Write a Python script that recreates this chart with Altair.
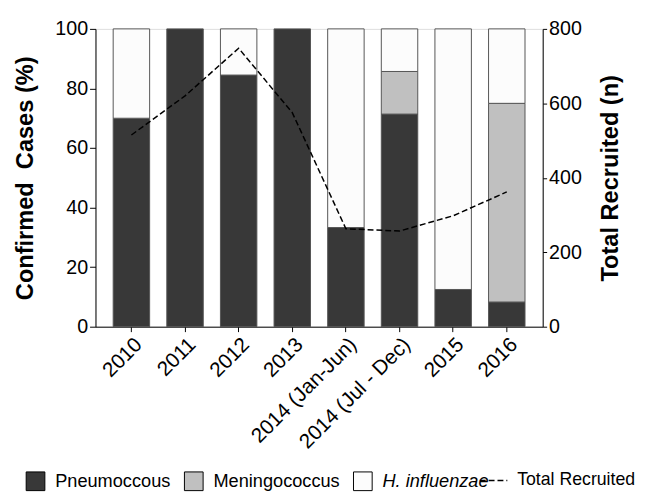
import altair as alt
import pandas as pd

categories = ["2010", "2011", "2012", "2013", "2014 (Jan-Jun)", "2014 (Jul - Dec)", "2015", "2016"]
pneumo = [70.0, 100.0, 84.5, 100.0, 33.3, 71.4, 12.5, 8.3]
mening = [0.0, 0.0, 0.0, 0.0, 0.0, 14.3, 0.0, 66.7]
hinf = [30.0, 0.0, 15.5, 0.0, 66.7, 14.3, 87.5, 25.0]
total_recruited = [515, 620, 748, 575, 263, 257, 298, 362]

series_names = ["Pneumoccous", "Meningococcus", "H. influenzae"]
series_colors = ["#383838", "#c0c0c0", "#fcfcfc"]

rows = []
for i, cat in enumerate(categories):
    for k, (name, vals) in enumerate(zip(series_names, [pneumo, mening, hinf])):
        if vals[i] > 0:
            rows.append({"year": cat, "series": name, "value": vals[i], "order": k})
bars_df = pd.DataFrame(rows)
line_df = pd.DataFrame({"year": categories, "total": total_recruited, "kind": "Total Recruited"})

FONT = "Liberation Sans"

x_enc = alt.X(
    "year:N",
    sort=categories,
    scale=alt.Scale(paddingInner=0.32, paddingOuter=0.33),
    axis=alt.Axis(
        title=None, labelAngle=-45, labelFontSize=21, labelColor="black",
        domainColor="black", tickColor="black", tickSize=5, labelPadding=2,
        labelFont=FONT,
    ),
)

bars = alt.Chart(bars_df).mark_bar(stroke="#555555", strokeWidth=1).encode(
    x=x_enc,
    y=alt.Y(
        "value:Q",
        stack="zero",
        scale=alt.Scale(domain=[0, 100]),
        axis=alt.Axis(
            title="Confirmed\u00a0 Cases (%)", titleFontSize=24, titleFontWeight="bold",
            titleColor="black", titleFont=FONT, titlePadding=18,
            labelFontSize=20, labelColor="black", labelFont=FONT,
            values=[0, 20, 40, 60, 80, 100], grid=False,
            domainColor="black", tickColor="black", tickSize=6, labelPadding=2,
        ),
    ),
    color=alt.Color(
        "series:N",
        scale=alt.Scale(domain=series_names, range=series_colors),
        legend=alt.Legend(
            title=None, orient="none", legendX=-71, legendY=450, direction="horizontal",
            symbolType="square", symbolSize=361, symbolStrokeColor="black",
            symbolStrokeWidth=1, symbolOpacity=1, labelFontSize=18.5, labelFont=FONT,
            labelColor="black", labelOffset=10, columnPadding=11, padding=0,
            labelFontStyle={"expr": "datum.label == 'H. influenzae' ? 'italic' : 'normal'"},
        ),
    ),
    order=alt.Order("order:Q", sort="ascending"),
)

line = alt.Chart(line_df).mark_line(color="black", strokeWidth=1.5).encode(
    x=alt.X("year:N", sort=categories),
    y=alt.Y(
        "total:Q",
        scale=alt.Scale(domain=[0, 800]),
        axis=alt.Axis(
            orient="right", title="Total Recruited (n)", titleFontSize=24,
            titleFontWeight="bold", titleColor="black", titleFont=FONT,
            titleAngle=270, titleBaseline="top", titlePadding=18,
            labelFontSize=20, labelColor="black", labelFont=FONT,
            values=[0, 200, 400, 600, 800], grid=False,
            domainColor="black", tickColor="black", tickSize=4, labelPadding=2,
        ),
    ),
    strokeDash=alt.StrokeDash(
        "kind:N",
        scale=alt.Scale(domain=["Total Recruited"], range=[[6, 3]]),
        legend=alt.Legend(
            title=None, orient="none", legendX=390, legendY=450, clipHeight=19,
            symbolType="stroke", symbolSize=784, symbolStrokeColor="black",
            symbolStrokeWidth=1.5, labelFontSize=18, labelFont=FONT,
            labelColor="black", labelOffset=9, padding=0,
        ),
    ),
)

chart = (
    alt.layer(bars, line)
    .resolve_scale(y="independent", color="independent", strokeDash="independent")
    .properties(width=455, height=303, padding={"left": 5, "top": 7, "right": 5, "bottom": 0})
    .configure_view(stroke=None)
    .configure(font=FONT, background="white")
)

chart.save("out.html", embed_options={"renderer": "svg", "actions": False})
